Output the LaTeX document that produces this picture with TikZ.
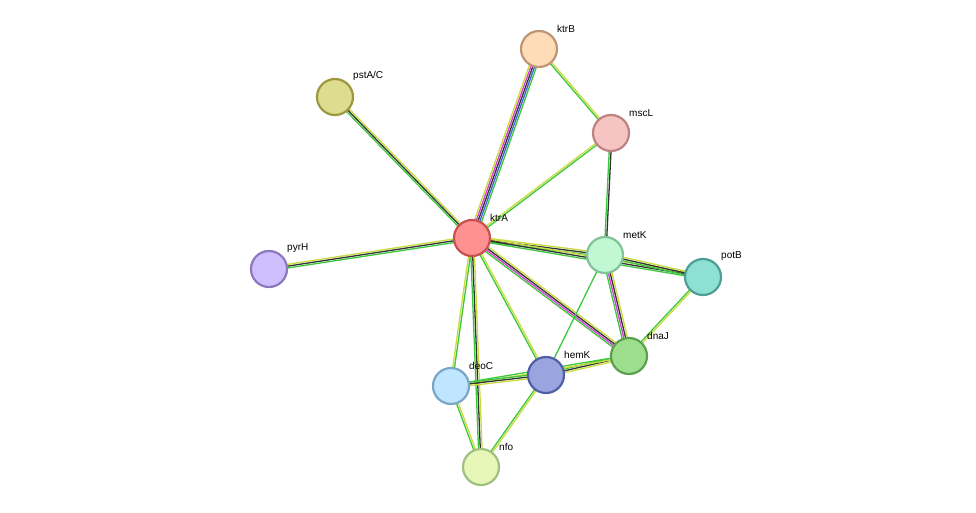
\documentclass[tikz,border=0pt]{standalone}
\usepackage{fontspec}
\setmainfont{Liberation Sans}
\usetikzlibrary{calc}
\definecolor{tm}{HTML}{C8DC3C}
\definecolor{co}{HTML}{3CC83C}
\definecolor{ex}{HTML}{D63CD6}
\definecolor{db}{HTML}{4060E0}
\definecolor{hm}{HTML}{333333}
\tikzset{
  prot/.style={circle,draw,line width=2.2pt,minimum size=36pt,inner sep=0pt},
  lbl/.style={font=\fontsize{10}{11}\selectfont,anchor=south west,inner sep=0pt},
}
% edge with one parallel line per colour
\newcommand\lnk[3]{%
  \foreach \c [count=\i] in {#3} {\xdef\nl{\i}}%
  \foreach \c [count=\i] in {#3} {
    \pgfmathsetmacro\off{(\i-(\nl+1)/2)*1.8}
    \draw[\c,line width=1.3pt] ($(#1)!\off pt!90:(#2)$) -- ($(#2)!\off pt!-90:(#1)$);
  }}
\begin{document}
\begin{tikzpicture}[x=1pt,y=-1pt]
\useasboundingbox (0,0) rectangle (976,513);
\coordinate (ktrA) at (472,238);
\coordinate (ktrB) at (539,49);
\coordinate (pstAC) at (335,97);
\coordinate (mscL) at (611,133);
\coordinate (pyrH) at (269,269);
\coordinate (metK) at (605,255);
\coordinate (potB) at (703,277);
\coordinate (dnaJ) at (629,356);
\coordinate (hemK) at (546,375);
\coordinate (deoC) at (451,386);
\coordinate (nfo) at (481,467);
% connectors
\lnk{ktrA}{ktrB}{co,db,hm,ex,tm}
\lnk{ktrA}{pstAC}{tm,hm,co}
\lnk{ktrA}{mscL}{co,tm}
\lnk{ktrA}{pyrH}{tm,hm,co}
\lnk{ktrA}{metK}{co,hm,tm}
\lnk{ktrA}{potB}{co,hm,tm}
\lnk{ktrA}{dnaJ}{co,ex,hm,tm}
\lnk{ktrA}{hemK}{co,tm}
\lnk{ktrA}{deoC}{tm,co}
\lnk{ktrA}{nfo}{co,hm,tm}
\lnk{ktrB}{mscL}{co,tm}
\lnk{mscL}{metK}{co,hm}
\lnk{metK}{potB}{co,hm,tm}
\lnk{metK}{dnaJ}{co,ex,hm,tm}
\lnk{metK}{hemK}{co}
\lnk{potB}{dnaJ}{co,tm}
\lnk{dnaJ}{hemK}{co,hm,tm}
\lnk{dnaJ}{deoC}{co,tm}
\lnk{hemK}{deoC}{co,hm,tm}
\lnk{hemK}{nfo}{co,tm}
\lnk{deoC}{nfo}{co,tm}
% proteins
\node[prot,fill={rgb,255:red,255;green,145;blue,145},draw={rgb,255:red,200;green,80;blue,80}] (nA) at (ktrA) {};
\node[prot,fill={rgb,255:red,255;green,220;blue,184},draw={rgb,255:red,190;green,150;blue,118}] (nB) at (ktrB) {};
\node[prot,fill={rgb,255:red,222;green,220;blue,142},draw={rgb,255:red,155;green,152;blue,64}] (nP) at (pstAC) {};
\node[prot,fill={rgb,255:red,247;green,196;blue,196},draw={rgb,255:red,190;green,130;blue,130}] (nM) at (mscL) {};
\node[prot,fill={rgb,255:red,208;green,191;blue,255},draw={rgb,255:red,140;green,120;blue,190}] (nY) at (pyrH) {};
\node[prot,fill={rgb,255:red,193;green,247;blue,211},draw={rgb,255:red,128;green,195;blue,150}] (nK) at (metK) {};
\node[prot,fill={rgb,255:red,142;green,223;blue,212},draw={rgb,255:red,78;green,158;blue,150}] (nT) at (potB) {};
\node[prot,fill={rgb,255:red,158;green,223;blue,142},draw={rgb,255:red,90;green,160;blue,80}] (nJ) at (dnaJ) {};
\node[prot,fill={rgb,255:red,154;green,164;blue,223},draw={rgb,255:red,80;green,96;blue,168}] (nH) at (hemK) {};
\node[prot,fill={rgb,255:red,192;green,230;blue,255},draw={rgb,255:red,120;green,165;blue,200}] (nD) at (deoC) {};
\node[prot,fill={rgb,255:red,230;green,247;blue,184},draw={rgb,255:red,160;green,192;blue,128}] (nN) at (nfo) {};
% labels
\node[lbl] at ($(ktrA)+(18,-16)$) {ktrA};
\node[lbl] at ($(ktrB)+(18,-16)$) {ktrB};
\node[lbl] at ($(pstAC)+(18,-16)$) {pstA/C};
\node[lbl] at ($(mscL)+(18,-16)$) {mscL};
\node[lbl] at ($(pyrH)+(18,-16)$) {pyrH};
\node[lbl] at ($(metK)+(18,-16)$) {metK};
\node[lbl] at ($(potB)+(18,-16)$) {potB};
\node[lbl] at ($(dnaJ)+(18,-16)$) {dnaJ};
\node[lbl] at ($(hemK)+(18,-16)$) {hemK};
\node[lbl] at ($(deoC)+(18,-16)$) {deoC};
\node[lbl] at ($(nfo)+(18,-16)$) {nfo};
\end{tikzpicture}
\end{document}
